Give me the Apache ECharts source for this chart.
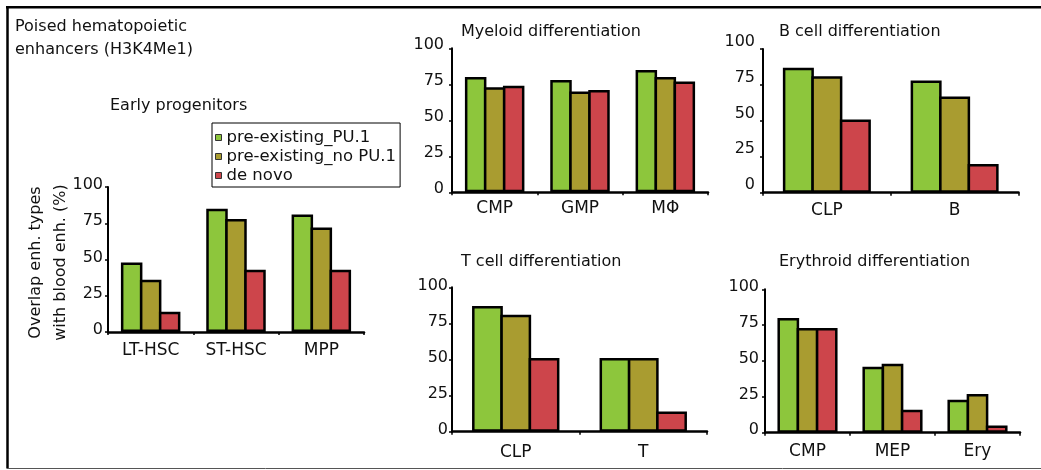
<!DOCTYPE html>
<html>
<head>
<meta charset="utf-8">
<script src="https://cdn.jsdelivr.net/npm/echarts@6/dist/echarts.min.js"></script>
<style>
  html, body { margin: 0; padding: 0; background: #fff; }
  #chart { width: 1041px; height: 470px; }
</style>
</head>
<body>
<div id="chart"></div>
<script>
// ---------- data ----------
const seriesNames = ['pre-existing_PU.1', 'pre-existing_no PU.1', 'de novo'];
const yTicks = ['0', '25', '50', '75', '100'];

const earlyCats = ['LT-HSC', 'ST-HSC', 'MPP'];
const earlyPU1 = [48, 85, 81];
const earlyNoPU1 = [36, 78, 72];
const earlyDeNovo = [14, 43, 43];

const myeloidCats = ['CMP', 'GMP', 'MΦ'];
const myeloidPU1 = [80, 78, 85];
const myeloidNoPU1 = [73, 70, 80];
const myeloidDeNovo = [74, 71, 77];

const bCats = ['CLP', 'B'];
const bPU1 = [87, 78];
const bNoPU1 = [81, 67];
const bDeNovo = [51, 20];

const tCats = ['CLP', 'T'];
const tPU1 = [87, 51];
const tNoPU1 = [81, 51];
const tDeNovo = [51, 14];

const eryCats = ['CMP', 'MEP', 'Ery'];
const eryPU1 = [80, 46, 23];
const eryNoPU1 = [73, 48, 27];
const eryDeNovo = [73, 16, 5];

// ---------- styling ----------
const FONT = 'DejaVu Sans';
const colors = ['#8DC63C', '#A99C30', '#CD454B'];
const BORDER = 2.5;

const panels = [
  { cats: earlyCats, vals: [earlyPU1, earlyNoPU1, earlyDeNovo],
    grid: { left: 108, top: 187, width: 256, height: 145 }, barWidth: 19,
    yMargin: 5, yLH: 4, xMargin: 10 },
  { cats: myeloidCats, vals: [myeloidPU1, myeloidNoPU1, myeloidDeNovo],
    grid: { left: 452, top: 48.3, width: 256, height: 144 }, barWidth: 19,
    yMargin: 8, yLH: 7, xMargin: 7.5 },
  { cats: bCats, vals: [bPU1, bNoPU1, bDeNovo],
    grid: { left: 763, top: 49, width: 255.5, height: 143.7 }, barWidth: 28.5,
    yMargin: 8, yLH: 15, xMargin: 9.5 },
  { cats: tCats, vals: [tPU1, tNoPU1, tDeNovo],
    grid: { left: 452, top: 287.3, width: 255, height: 144.4 }, barWidth: 28.3,
    yMargin: 4, yLH: 3, xMargin: 12 },
  { cats: eryCats, vals: [eryPU1, eryNoPU1, eryDeNovo],
    grid: { left: 765, top: 289.3, width: 255, height: 143.4 }, barWidth: 19.2,
    yMargin: 6, yLH: 5, xMargin: 10 }
];

const grids = [], xAxes = [], yAxes = [], series = [];
panels.forEach((p, i) => {
  grids.push(Object.assign({ containLabel: false }, p.grid));
  xAxes.push({
    type: 'category', gridIndex: i, data: p.cats,
    axisLine: { lineStyle: { color: '#000', width: 2.5 } },
    axisTick: { show: true, length: 3, lineStyle: { color: '#000', width: 1.5 } },
    axisLabel: { color: '#111', fontFamily: FONT, fontSize: 17, margin: p.xMargin }
  });
  yAxes.push({
    type: 'value', gridIndex: i, min: 0, max: 100, interval: 25,
    splitLine: { show: false },
    axisLine: { show: true, lineStyle: { color: '#000', width: 2 } },
    axisTick: { show: true, length: 3, lineStyle: { color: '#000', width: 1.5 } },
    axisLabel: {
      color: '#111', fontFamily: FONT, fontSize: 16, margin: p.yMargin,
      verticalAlign: 'bottom', lineHeight: p.yLH,
      formatter: v => yTicks[Math.round(v / 25)]
    }
  });
  // widen each bar by the border so that the visible outlines touch
  const w = p.barWidth + BORDER;
  const gap = (-BORDER / w * 100).toFixed(2) + '%';
  p.vals.forEach((arr, k) => {
    series.push({
      type: 'bar', name: seriesNames[k], xAxisIndex: i, yAxisIndex: i,
      data: arr, barWidth: w, barGap: gap,
      itemStyle: { color: colors[k], borderColor: '#000', borderWidth: BORDER },
      emphasis: { disabled: true }, animation: false
    });
  });
});

const textStyle = (extra) => Object.assign({ fill: '#111', font: '16px "' + FONT + '"', textVerticalAlign: 'middle' }, extra);

const graphic = [
  // frame
  { type: 'line', shape: { x1: 7.5, y1: 7, x2: 7.5, y2: 468.5 }, style: { stroke: '#000', lineWidth: 2.5 } },
  { type: 'line', shape: { x1: 6, y1: 7.3, x2: 1041, y2: 7.3 }, style: { stroke: '#000', lineWidth: 2.5 } },
  { type: 'line', shape: { x1: 7, y1: 468.5, x2: 1041, y2: 468.5 }, style: { stroke: '#555', lineWidth: 1 } },
  // titles
  { type: 'text', left: 15, top: 15, style: { text: 'Poised hematopoietic\nenhancers (H3K4Me1)', fill: '#111', font: '16px "' + FONT + '"', lineHeight: 23 } },
  { type: 'text', x: 110, y: 105.5, style: textStyle({ text: 'Early progenitors' }) },
  { type: 'text', x: 461, y: 31.5, style: textStyle({ text: 'Myeloid differentiation' }) },
  { type: 'text', x: 779, y: 31.5, style: textStyle({ text: 'B cell differentiation' }) },
  { type: 'text', x: 461, y: 261.5, style: textStyle({ text: 'T cell differentiation' }) },
  { type: 'text', x: 779, y: 261.5, style: textStyle({ text: 'Erythroid differentiation' }) },
  // y axis title of left panel
  { type: 'text', x: 48.5, y: 262.5, rotation: Math.PI / 2,
    style: { text: 'Overlap enh. types\nwith blood enh. (%)', fill: '#111', font: '16px "' + FONT + '"',
             lineHeight: 25, textAlign: 'center', textVerticalAlign: 'middle' } }
];

const chart = echarts.init(document.getElementById('chart'), null, { renderer: 'canvas' });
chart.setOption({
  backgroundColor: '#fff',
  animation: false,
  grid: grids,
  xAxis: xAxes,
  yAxis: yAxes,
  series: series,
  legend: {
    data: seriesNames,
    orient: 'vertical', left: 212, top: 123,
    padding: [5, 4, 2, 3], itemGap: 0,
    itemWidth: 6, itemHeight: 6, icon: 'rect',
    itemStyle: { borderColor: '#333', borderWidth: 1 },
    borderColor: '#000', borderWidth: 1,
    textStyle: { fontFamily: FONT, fontSize: 16.5, color: '#111', lineHeight: 19, padding: [0, 0, 0, 0] },
    selectedMode: false
  },
  graphic: graphic
});
</script>
</body>
</html>
